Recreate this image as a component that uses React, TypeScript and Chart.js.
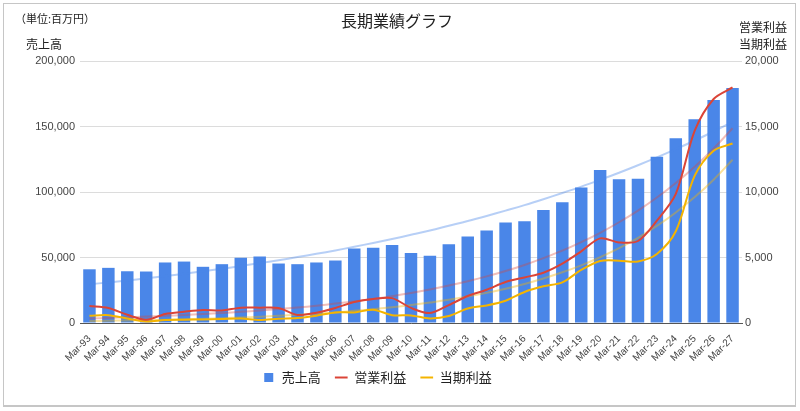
import { useEffect, useRef } from 'react';
import { Chart, registerables } from 'chart.js';

Chart.register(...registerables);

// 決算期（3月）
const periods = [
  'Mar-93', 'Mar-94', 'Mar-95', 'Mar-96', 'Mar-97', 'Mar-98', 'Mar-99', 'Mar-00',
  'Mar-01', 'Mar-02', 'Mar-03', 'Mar-04', 'Mar-05', 'Mar-06', 'Mar-07', 'Mar-08',
  'Mar-09', 'Mar-10', 'Mar-11', 'Mar-12', 'Mar-13', 'Mar-14', 'Mar-15', 'Mar-16',
  'Mar-17', 'Mar-18', 'Mar-19', 'Mar-20', 'Mar-21', 'Mar-22', 'Mar-23', 'Mar-24',
  'Mar-25', 'Mar-26', 'Mar-27',
];

// 売上高（百万円、左軸）
const sales = [
  41000, 42100, 39500, 39300, 46200, 46900, 42900, 44900,
  49800, 50800, 45400, 44900, 46200, 47700, 56900, 57400,
  59500, 53400, 51400, 60200, 66100, 70700, 76800, 77600,
  86300, 92100, 103500, 116800, 109700, 110200, 127000, 141000,
  155500, 170300, 179400,
];

// 営業利益（百万円、右軸）
const operatingProfit = [
  1300, 1150, 630, 250, 690, 860, 990, 950,
  1170, 1170, 1150, 610, 790, 1150, 1600, 1830,
  1900, 1150, 760, 1370, 2060, 2540, 3130, 3480,
  3840, 4530, 5470, 6460, 6150, 6260, 7810, 9850,
  14680, 17100, 17980,
];

// 当期利益（百万円、右軸）
const netProfit = [
  550, 600, 350, 120, 230, 250, 270, 300,
  350, 230, 330, 380, 560, 810, 810, 1010,
  600, 580, 350, 530, 1110, 1340, 1700, 2370,
  2800, 3100, 4050, 4730, 4760, 4700, 5270, 7000,
  11250, 13150, 13700,
];

// 近似曲線
const salesTrend = [
  29500, 31000, 32500, 34100, 35800, 37600, 39500, 41400,
  43500, 45700, 47900, 50300, 52800, 55400, 58200, 61100,
  64100, 67300, 70600, 74200, 77800, 81700, 85800, 90000,
  94500, 99200, 104100, 109300, 114700, 120400, 126400, 132700,
  139300, 146200, 153500,
];
const operatingTrend = [
  350, 390, 440, 490, 550, 610, 680, 760,
  850, 950, 1060, 1180, 1320, 1480, 1650, 1840,
  2050, 2290, 2560, 2860, 3190, 3560, 3970, 4430,
  4950, 5520, 6170, 6880, 7690, 8580, 9580, 10690,
  11930, 13320, 14870,
];
const netTrend = [
  150, 170, 195, 220, 250, 290, 330, 370,
  420, 480, 550, 630, 710, 810, 930, 1050,
  1200, 1370, 1560, 1770, 2020, 2300, 2620, 2980,
  3400, 3870, 4400, 5020, 5710, 6500, 7410, 8440,
  9610, 10940, 12460,
];

const LATIN = '"Liberation Sans", Arial, sans-serif';
const CJK = '"Noto Sans CJK JP", "Noto Sans", sans-serif';

const BLUE = '#4a86e8';
const RED = '#db4437';
const YELLOW = '#f4b400';

// Google のグラフに合わせて凡例の位置を少しずらす
const shiftLegend = {
  id: 'shiftLegend',
  afterLayout(chart: any) {
    const lg = chart.legend;
    if (!lg) return;
    lg.left -= 23;
    lg.right -= 23;
    lg.top -= 6;
    lg.bottom -= 6;
  },
};

function label(text: string, style: React.CSSProperties) {
  return (
    <div
      style={{
        position: 'absolute',
        fontFamily: CJK,
        lineHeight: 1,
        color: '#222',
        whiteSpace: 'pre',
        ...style,
      }}
    >
      {text}
    </div>
  );
}

export default function App() {
  const canvasRef = useRef<HTMLCanvasElement>(null);

  useEffect(() => {
    const canvas = canvasRef.current;
    if (!canvas) return;

    const chart = new Chart(canvas, {
      type: 'bar',
      data: {
        labels: periods,
        datasets: [
          {
            type: 'bar',
            label: '売上高',
            data: sales,
            backgroundColor: BLUE,
            categoryPercentage: 1,
            barPercentage: 0.66,
            yAxisID: 'y',
            order: 10,
            pointStyle: 'rect',
          },
          {
            type: 'line',
            label: '営業利益',
            data: operatingProfit,
            borderColor: RED,
            backgroundColor: RED,
            borderWidth: 2,
            pointRadius: 0,
            tension: 0.3,
            yAxisID: 'y1',
            order: 1,
            pointStyle: 'line',
          },
          {
            type: 'line',
            label: '当期利益',
            data: netProfit,
            borderColor: YELLOW,
            backgroundColor: YELLOW,
            borderWidth: 2,
            pointRadius: 0,
            tension: 0.3,
            yAxisID: 'y1',
            order: 2,
            pointStyle: 'line',
          },
          {
            type: 'line',
            label: '売上高 近似',
            data: salesTrend,
            borderColor: 'rgba(74,134,232,0.4)',
            borderWidth: 2,
            pointRadius: 0,
            tension: 0.4,
            yAxisID: 'y',
            order: 5,
          },
          {
            type: 'line',
            label: '営業利益 近似',
            data: operatingTrend,
            borderColor: 'rgba(219,68,55,0.35)',
            borderWidth: 2,
            pointRadius: 0,
            tension: 0.4,
            yAxisID: 'y1',
            order: 5,
          },
          {
            type: 'line',
            label: '当期利益 近似',
            data: netTrend,
            borderColor: 'rgba(244,180,0,0.4)',
            borderWidth: 2,
            pointRadius: 0,
            tension: 0.4,
            yAxisID: 'y1',
            order: 5,
          },
        ],
      },
      options: {
        responsive: true,
        maintainAspectRatio: false,
        animation: false,
        layout: { padding: { top: 61, left: 0, right: 0, bottom: 11 } },
        plugins: {
          title: { display: false },
          tooltip: { enabled: false },
          legend: {
            position: 'bottom',
            labels: {
              filter: (item) => (item.datasetIndex ?? 0) < 3,
              sort: (a, b) => (a.datasetIndex ?? 0) - (b.datasetIndex ?? 0),
              usePointStyle: true,
              boxHeight: 9,
              padding: 14,
              color: '#222',
              font: { family: CJK, size: 13 },
            },
          },
        },
        scales: {
          x: {
            grid: { display: false },
            border: { display: true, color: '#555', width: 1 },
            ticks: {
              autoSkip: false,
              maxRotation: 45,
              minRotation: 45,
              padding: 2,
              color: '#444',
              font: { family: LATIN, size: 10 },
            },
            afterFit: (s: any) => {
              s.height = 40;
            },
          },
          y: {
            position: 'left',
            min: 0,
            max: 200000,
            grid: { color: '#dcdcdc', drawTicks: false },
            border: { display: false },
            ticks: {
              stepSize: 50000,
              padding: 5,
              color: '#444',
              font: { family: LATIN, size: 11 },
              callback: (v) => Number(v).toLocaleString('en-US'),
            },
            afterFit: (s: any) => {
              s.width = 80;
            },
          },
          y1: {
            position: 'right',
            min: 0,
            max: 20000,
            grid: { drawOnChartArea: false, drawTicks: false },
            border: { display: false },
            ticks: {
              stepSize: 5000,
              padding: 3,
              color: '#444',
              font: { family: LATIN, size: 11 },
              callback: (v) => Number(v).toLocaleString('en-US'),
            },
            afterFit: (s: any) => {
              s.width = 58;
            },
          },
        },
      },
      plugins: [shiftLegend],
    });

    return () => chart.destroy();
  }, []);

  return (
    <div
      style={{
        position: 'fixed',
        left: 0,
        top: 0,
        width: 800,
        height: 411,
        background: '#fff',
      }}
    >
      <canvas ref={canvasRef} />
      <div
        style={{
          position: 'absolute',
          left: 3,
          top: 3,
          width: 793,
          height: 404,
          boxSizing: 'border-box',
          border: '1px solid #c6c6c6',
          borderBottomWidth: 2,
          pointerEvents: 'none',
        }}
      />
      {label('（単位:百万円）', { left: 15, top: 13, fontSize: 11 })}
      {label('長期業績グラフ', { left: 341, top: 12, fontSize: 16 })}
      {label('売上高', { left: 26, top: 38, fontSize: 12 })}
      {label('営業利益\n当期利益', { left: 739, top: 18, fontSize: 12, lineHeight: '17px' })}
    </div>
  );
}
